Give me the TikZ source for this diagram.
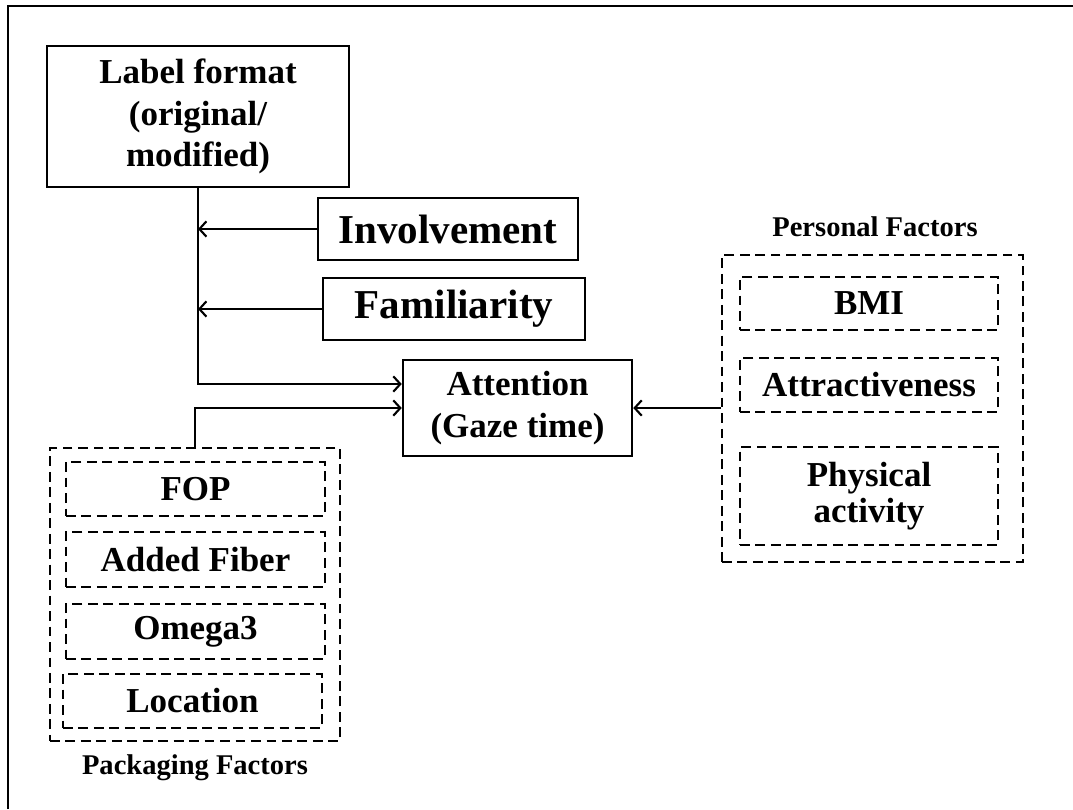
\documentclass[tikz,border=0pt]{standalone}
\usepackage{fontspec}
\setmainfont{Liberation Serif}
\usetikzlibrary{positioning,arrows.meta}

\begin{document}
\begin{tikzpicture}[every node/.style={align=center,inner sep=0pt},
  box/.style={draw,line width=1.8pt,font=\bfseries\fontsize{24.9}{29.5}\selectfont},
  bigbox/.style={draw,line width=1.8pt,font=\bfseries\fontsize{29.2}{34}\selectfont},
  dbox/.style={draw,dash pattern=on 7pt off 4pt,line width=1.8pt,font=\bfseries\fontsize{24.9}{26}\selectfont},
  group/.style={draw,dash pattern=on 7pt off 4pt,line width=1.8pt},
  ttl/.style={font=\bfseries\fontsize{20.3}{24}\selectfont},
  arr/.style={-{Straight Barb[length=5pt,width=11pt]},line width=1.5pt}]
\useasboundingbox (0,0) rectangle (26.825,-20.225);
\draw[line width=1.3pt] (0.2,-20.225) |- (26.825,-0.15);
% main boxes
\node[box,minimum width=7.55cm,minimum height=3.525cm] (lab) at (4.95,-2.9125) {Label format\\(original/\\modified)};
\node[bigbox,minimum width=6.5cm,minimum height=1.55cm] (inv) at (11.2,-5.725) {Involvement};
\node[bigbox,minimum width=6.55cm,minimum height=1.55cm] (fam) at (11.35,-7.725) {Familiarity};
\node[box,minimum width=5.725cm,minimum height=2.4cm] (att) at (12.9375,-10.2) {Attention\\(Gaze time)};
% packaging factors
\node[group,minimum width=7.25cm,minimum height=7.325cm] (pack) at (4.875,-14.8625) {};
\node[dbox,minimum width=6.475cm,minimum height=1.35cm] (fop) at (4.8875,-12.225) {FOP};
\node[dbox,minimum width=6.475cm,minimum height=1.375cm] (fib) at (4.8875,-13.9875) {Added Fiber};
\node[dbox,minimum width=6.475cm,minimum height=1.375cm] (ome) at (4.8875,-15.7875) {Omega3};
\node[dbox,minimum width=6.475cm,minimum height=1.35cm] (loc) at (4.8125,-17.525) {Location};
\node[ttl] (packlab) at (4.875,-19.2) {Packaging Factors};
% personal factors
\node[group,minimum width=7.525cm,minimum height=7.675cm] (pers) at (21.8125,-10.2125) {};
\node[dbox,minimum width=6.45cm,minimum height=1.325cm] (bmi) at (21.725,-7.5875) {BMI};
\node[dbox,minimum width=6.45cm,minimum height=1.35cm] (attr) at (21.725,-9.625) {Attractiveness};
\node[dbox,minimum width=6.45cm,minimum height=2.45cm] (phys) at (21.725,-12.4) {Physical\\activity};
\node[ttl] (perslab) at (21.875,-5.675) {Personal Factors};
% arrows
\draw[arr] (inv.west) -- (lab.south |- inv.west);
\draw[arr] (fam.west) -- (lab.south |- fam.west);
\draw[arr] (lab.south) |- ([yshift=0.6cm]att.west);
\draw[arr] (pack.north) |- (att.west);
\draw[arr] (pers.west |- att.east) -- (att.east);
\end{tikzpicture}
\end{document}
